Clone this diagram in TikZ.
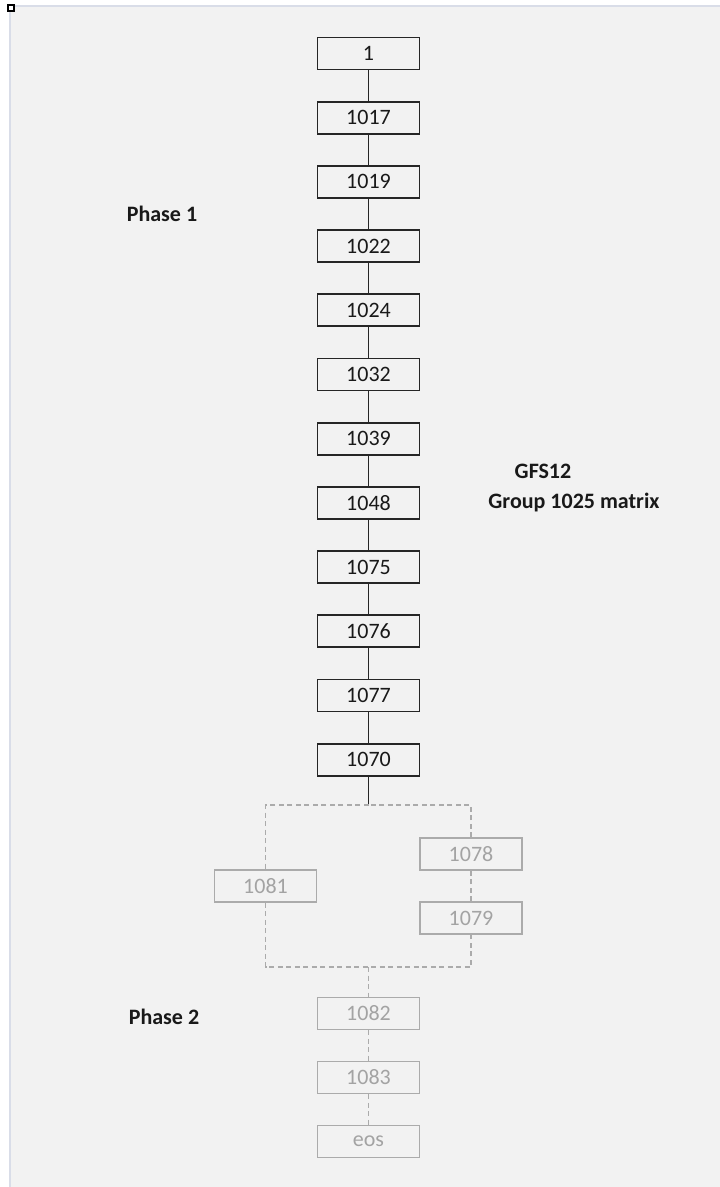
\documentclass[tikz,border=0pt]{standalone}
\usepackage{fontspec}
\setmainfont{Carlito}
\usepackage{tikz}
\usetikzlibrary{positioning, calc}
\definecolor{bgpanel}{HTML}{F2F2F2}
\definecolor{bgedge}{HTML}{D9DDE8}
\definecolor{fadegray}{HTML}{ABABAB}
\definecolor{fadetext}{HTML}{A3A3A3}
\definecolor{darkline}{HTML}{262626}
\tikzset{
    box_dark/.style={rectangle, draw=darkline, line width=1.8pt, minimum width=102pt, minimum height=32pt, inner sep=0pt, font=\fontsize{22}{26}\selectfont, text=black!90},
    box_gray/.style={rectangle, draw=fadegray, line width=1.6pt, minimum width=102pt, minimum height=32pt, inner sep=0pt, font=\fontsize{22}{26}\selectfont, text=fadetext},
    link_dark/.style={draw=darkline, line width=1.8pt},
    link_gray/.style={draw=fadegray, line width=1.6pt, dash pattern=on 5pt off 3.5pt},
    label_bold/.style={font=\bfseries\fontsize{22}{26}\selectfont, text=black!90}
}
\begin{document}
\begin{tikzpicture}[x=1pt, y=-1pt, node distance=30.4pt]
            \useasboundingbox (0,0) rectangle (720,1187);
            % Panel
            \fill[bgpanel] (10,6) rectangle (720,1187);
            \draw[bgedge, line width=2pt] (10,1187) -- (10,6) -- (720,6);
            \draw[black, line width=2pt, fill=white] (8,5) rectangle (14,11);

            % Phase 1 column
            \node (b1) [box_dark] at (368.5,53.5) {1};
            \node (b1017) [box_dark, below=of b1] {1017};
            \node (b1019) [box_dark, below=of b1017] {1019};
            \node (b1022) [box_dark, below=of b1019] {1022};
            \node (b1024) [box_dark, below=of b1022] {1024};
            \node (b1032) [box_dark, below=of b1024] {1032};
            \node (b1039) [box_dark, below=of b1032] {1039};
            \node (b1048) [box_dark, below=of b1039] {1048};
            \node (b1075) [box_dark, below=of b1048] {1075};
            \node (b1076) [box_dark, below=of b1075] {1076};
            \node (b1077) [box_dark, below=of b1076] {1077};
            \node (b1070) [box_dark, below=of b1077] {1070};

            % Links
            \draw [link_dark] (b1) -- (b1017);
            \draw [link_dark] (b1017) -- (b1019);
            \draw [link_dark] (b1019) -- (b1022);
            \draw [link_dark] (b1022) -- (b1024);
            \draw [link_dark] (b1024) -- (b1032);
            \draw [link_dark] (b1032) -- (b1039);
            \draw [link_dark] (b1039) -- (b1048);
            \draw [link_dark] (b1048) -- (b1075);
            \draw [link_dark] (b1075) -- (b1076);
            \draw [link_dark] (b1076) -- (b1077);
            \draw [link_dark] (b1077) -- (b1070);

            % Branches
            \coordinate (jtop) at (368.5,805);
            \coordinate (jbot) at (368.5,967);
            \node (b1081) [box_gray] at (265.5,886) {1081};
            \node (b1078) [box_gray] at (471,854) {1078};
            \node (b1079) [box_gray] at (471,918) {1079};
            \draw [link_dark] (b1070) -- (jtop);
            \draw [link_gray] (jtop) -| (b1081.north);
            \draw [link_gray] (b1081.south) |- (jbot) -| (b1079.south);
            \draw [link_gray] (b1079) -- (b1078);
            \draw [link_gray] (b1078.north) |- (jtop);

            % Phase 2 column
            \node (b1082) [box_gray] at (368.5,1013.5) {1082};
            \node (b1083) [box_gray, below=of b1082] {1083};
            \node (beos) [box_gray, below=of b1083] {eos};
            \draw [link_gray] (jbot) -- (b1082);
            \draw [link_gray] (b1082) -- (b1083);
            \draw [link_gray] (b1083) -- (beos);

            % Labels
            \node (ph1) [label_bold] at (162,214) {Phase 1};
            \node (ph2) [label_bold] at (164,1017) {Phase 2};
            \node (gfs) [label_bold] at (543,471) {GFS12};
            \node (grp) [label_bold] at (574,503) {Group 1025 matrix};
		\end{tikzpicture}
\end{document}
